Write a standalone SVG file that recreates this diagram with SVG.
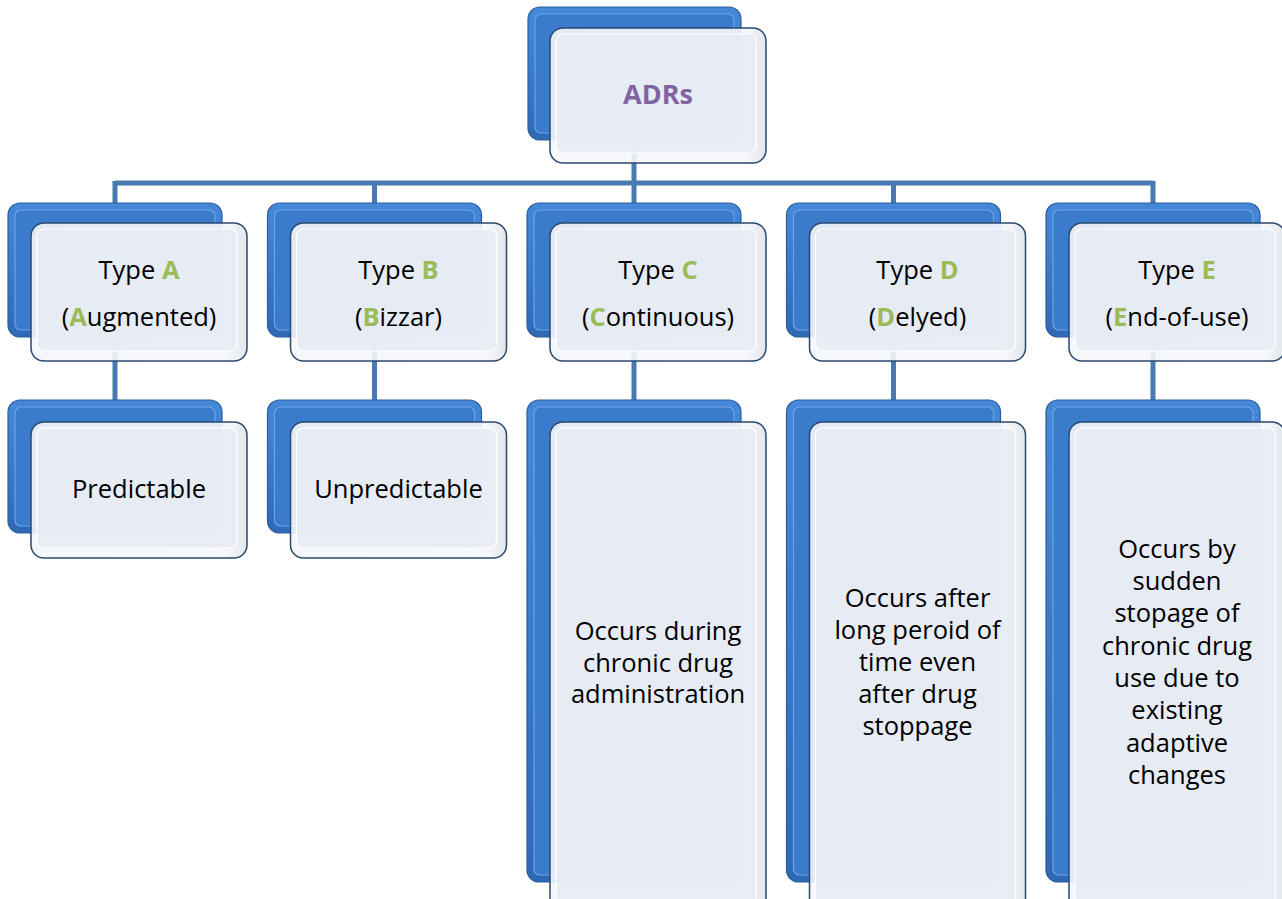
<svg xmlns="http://www.w3.org/2000/svg" width="1282" height="899" viewBox="0 0 1282 899">
  <defs>
    <linearGradient id="backFill" x1="0" y1="0" x2="0" y2="1">
      <stop offset="0" stop-color="#4588d8"/>
      <stop offset="0.5" stop-color="#3a7acb"/>
      <stop offset="1" stop-color="#2f69b6"/>
    </linearGradient>
    <linearGradient id="frontFill" x1="0" y1="0" x2="1" y2="0">
      <stop offset="0" stop-color="#f4f6fa"/>
      <stop offset="0.9" stop-color="#f7f8fb"/>
      <stop offset="1" stop-color="#dfe3e8"/>
    </linearGradient>
    <style>
      .conn { stroke: #4a79b2; stroke-width: 5; fill: none; }
      .back { fill: url(#backFill); stroke: #2c5e9f; stroke-width: 1.2; }
      .backIn { fill: #3b7bcc; stroke: #6aa4e8; stroke-width: 1.2; }
      .front { fill: url(#frontFill); fill-opacity: 0.9; stroke: #2a4a70; stroke-width: 1.5; }
      .frontIn { fill: #e6ebf3; fill-opacity: 0.85; stroke: #ffffff; stroke-width: 1.2; }
      .lbl { font-family: "Open Sans", "Liberation Sans", sans-serif; font-size: 25.5px; fill: #000000; text-anchor: middle; }
      .title { font-family: "Open Sans", "Liberation Sans", sans-serif; font-size: 27px; font-weight: bold; fill: #8064a2; text-anchor: middle; }
      .hl { fill: #9bbb59; font-weight: bold; }
    </style>
  </defs>

  <!-- connectors -->
  <g id="connectors">
    <line class="conn" x1="634" y1="140" x2="634" y2="183"/>
    <line class="conn" x1="115" y1="183" x2="1153" y2="183"/>
    <line class="conn" x1="115" y1="181" x2="115" y2="203"/>
    <line class="conn" x1="374.5" y1="181" x2="374.5" y2="203"/>
    <line class="conn" x1="634" y1="181" x2="634" y2="203"/>
    <line class="conn" x1="893.5" y1="181" x2="893.5" y2="203"/>
    <line class="conn" x1="1153" y1="181" x2="1153" y2="203"/>
    <line class="conn" x1="115" y1="337" x2="115" y2="400"/>
    <line class="conn" x1="374.5" y1="337" x2="374.5" y2="400"/>
    <line class="conn" x1="634" y1="337" x2="634" y2="400"/>
    <line class="conn" x1="893.5" y1="337" x2="893.5" y2="400"/>
    <line class="conn" x1="1153" y1="337" x2="1153" y2="400"/>
  </g>

  <!-- root -->
  <g id="node-adrs">
    <rect class="back" x="528" y="7" width="213" height="133" rx="12"/>
    <rect class="backIn" x="535" y="14" width="199" height="119" rx="6"/>
    <rect class="front" x="550" y="28" width="216" height="135" rx="13"/>
    <rect class="frontIn" x="556" y="34" width="200" height="119" rx="7"/>
    <text class="title" x="658" y="104">ADRs</text>
  </g>

  <!-- type level -->
  <g id="node-type-a">
    <rect class="back" x="8" y="203" width="214" height="134" rx="12"/>
    <rect class="backIn" x="15" y="210" width="200" height="120" rx="6"/>
    <rect class="front" x="31" y="223" width="216" height="138" rx="13"/>
    <rect class="frontIn" x="37" y="229" width="200" height="122" rx="7"/>
    <text class="lbl" x="139" y="279">Type <tspan class="hl">A</tspan></text>
    <text class="lbl" x="139" y="326">(<tspan class="hl">A</tspan>ugmented)</text>
  </g>
  <g id="node-type-b">
    <rect class="back" x="267.5" y="203" width="214" height="134" rx="12"/>
    <rect class="backIn" x="274.5" y="210" width="200" height="120" rx="6"/>
    <rect class="front" x="290.5" y="223" width="216" height="138" rx="13"/>
    <rect class="frontIn" x="296.5" y="229" width="200" height="122" rx="7"/>
    <text class="lbl" x="398.5" y="279">Type <tspan class="hl">B</tspan></text>
    <text class="lbl" x="398.5" y="326">(<tspan class="hl">B</tspan>izzar)</text>
  </g>
  <g id="node-type-c">
    <rect class="back" x="527" y="203" width="214" height="134" rx="12"/>
    <rect class="backIn" x="534" y="210" width="200" height="120" rx="6"/>
    <rect class="front" x="550" y="223" width="216" height="138" rx="13"/>
    <rect class="frontIn" x="556" y="229" width="200" height="122" rx="7"/>
    <text class="lbl" x="658" y="279">Type <tspan class="hl">C</tspan></text>
    <text class="lbl" x="658" y="326">(<tspan class="hl">C</tspan>ontinuous)</text>
  </g>
  <g id="node-type-d">
    <rect class="back" x="786.5" y="203" width="214" height="134" rx="12"/>
    <rect class="backIn" x="793.5" y="210" width="200" height="120" rx="6"/>
    <rect class="front" x="809.5" y="223" width="216" height="138" rx="13"/>
    <rect class="frontIn" x="815.5" y="229" width="200" height="122" rx="7"/>
    <text class="lbl" x="917.5" y="279">Type <tspan class="hl">D</tspan></text>
    <text class="lbl" x="917.5" y="326">(<tspan class="hl">D</tspan>elyed)</text>
  </g>
  <g id="node-type-e">
    <rect class="back" x="1046" y="203" width="214" height="134" rx="12"/>
    <rect class="backIn" x="1053" y="210" width="200" height="120" rx="6"/>
    <rect class="front" x="1069" y="223" width="216" height="138" rx="13"/>
    <rect class="frontIn" x="1075" y="229" width="200" height="122" rx="7"/>
    <text class="lbl" x="1177" y="279">Type <tspan class="hl">E</tspan></text>
    <text class="lbl" x="1177" y="326">(<tspan class="hl">E</tspan>nd-of-use)</text>
  </g>

  <!-- descriptions -->
  <g id="node-predictable">
    <rect class="back" x="8" y="400" width="214" height="133" rx="12"/>
    <rect class="backIn" x="15" y="407" width="200" height="119" rx="6"/>
    <rect class="front" x="31" y="422" width="216" height="136" rx="13"/>
    <rect class="frontIn" x="37" y="428" width="200" height="120" rx="7"/>
    <text class="lbl" x="139" y="498">Predictable</text>
  </g>
  <g id="node-unpredictable">
    <rect class="back" x="267.5" y="400" width="214" height="133" rx="12"/>
    <rect class="backIn" x="274.5" y="407" width="200" height="119" rx="6"/>
    <rect class="front" x="290.5" y="422" width="216" height="136" rx="13"/>
    <rect class="frontIn" x="296.5" y="428" width="200" height="120" rx="7"/>
    <text class="lbl" x="398.5" y="498">Unpredictable</text>
  </g>
  <g id="node-continuous-desc">
    <rect class="back" x="527" y="400" width="214" height="482" rx="12"/>
    <rect class="backIn" x="534" y="407" width="200" height="468" rx="6"/>
    <rect class="front" x="550" y="422" width="216" height="492" rx="13"/>
    <rect class="frontIn" x="556" y="428" width="200" height="476" rx="7"/>
    <text class="lbl" x="658" y="640">Occurs during</text>
    <text class="lbl" x="658" y="672">chronic drug</text>
    <text class="lbl" x="658" y="703">administration</text>
  </g>
  <g id="node-delayed-desc">
    <rect class="back" x="786.5" y="400" width="214" height="482" rx="12"/>
    <rect class="backIn" x="793.5" y="407" width="200" height="468" rx="6"/>
    <rect class="front" x="809.5" y="422" width="216" height="492" rx="13"/>
    <rect class="frontIn" x="815.5" y="428" width="200" height="476" rx="7"/>
    <text class="lbl" x="917.5" y="607">Occurs after</text>
    <text class="lbl" x="917.5" y="639">long peroid of</text>
    <text class="lbl" x="917.5" y="671">time even</text>
    <text class="lbl" x="917.5" y="703">after drug</text>
    <text class="lbl" x="917.5" y="735">stoppage</text>
  </g>
  <g id="node-end-of-use-desc">
    <rect class="back" x="1046" y="400" width="214" height="482" rx="12"/>
    <rect class="backIn" x="1053" y="407" width="200" height="468" rx="6"/>
    <rect class="front" x="1069" y="422" width="216" height="492" rx="13"/>
    <rect class="frontIn" x="1075" y="428" width="200" height="476" rx="7"/>
    <text class="lbl" x="1177" y="558">Occurs by</text>
    <text class="lbl" x="1177" y="590">sudden</text>
    <text class="lbl" x="1177" y="622">stopage of</text>
    <text class="lbl" x="1177" y="655">chronic drug</text>
    <text class="lbl" x="1177" y="687">use due to</text>
    <text class="lbl" x="1177" y="719">existing</text>
    <text class="lbl" x="1177" y="752">adaptive</text>
    <text class="lbl" x="1177" y="784">changes</text>
  </g>
</svg>
